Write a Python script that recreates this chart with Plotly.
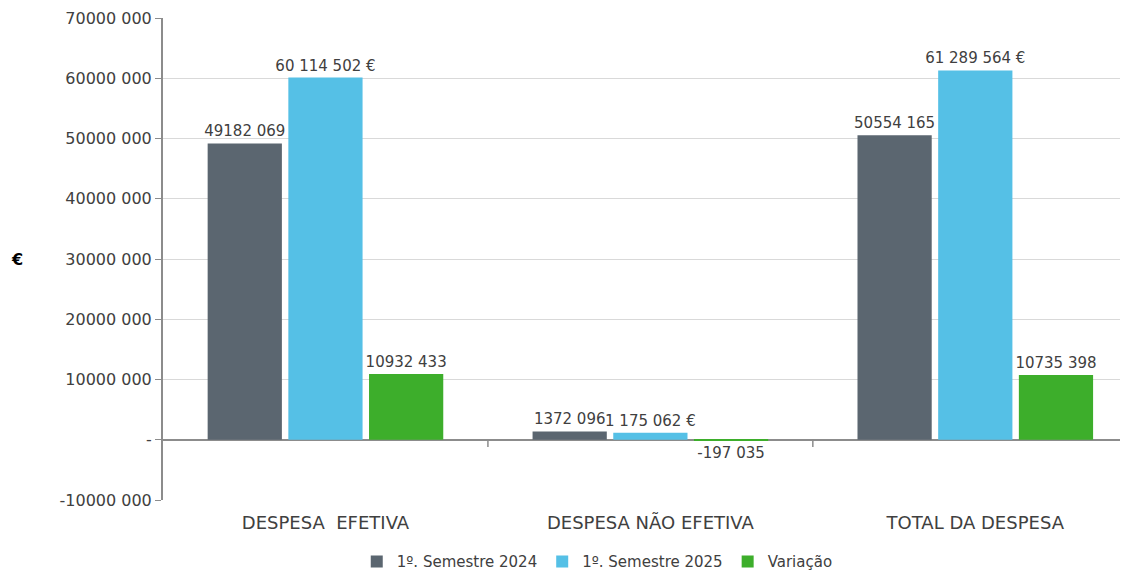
import plotly.graph_objects as go

categories = ["DESPESA  EFETIVA", "DESPESA NÃO EFETIVA", "TOTAL DA DESPESA"]
series_names = ["1º. Semestre 2024", "1º. Semestre 2025", "Variação"]
s2024 = [49182069, 1372096, 50554165]
s2025 = [60114502, 1175062, 61289564]
variacao = [10932433, -197035, 10735398]
labels_2024 = ["49182 069", "1372 096", "50554 165"]
labels_2025 = ["60 114 502 €", "1 175 062 €", "61 289 564 €"]
labels_var = ["10932 433", "-197 035", "10735 398"]
tick_vals = [-10000000, 0, 10000000, 20000000, 30000000, 40000000, 50000000, 60000000, 70000000]
tick_text = ["-10000 000", "-", "10000 000", "20000 000", "30000 000", "40000 000",
             "50000 000", "60000 000", "70000 000"]
y_title = "€"
colors = ["#5B6670", "#55C0E6", "#3DAE2B"]

FONT = "DejaVu Sans"
TXT = "#404040"

fig = go.Figure()
for name, vals, labs, col in zip(series_names, [s2024, s2025, variacao],
                                 [labels_2024, labels_2025, labels_var], colors):
    fig.add_trace(go.Bar(
        x=categories, y=vals, name=name, marker_color=col,
        marker_line_width=0,
        text=labs, textposition="outside", cliponaxis=False,
        constraintext="none",
        textfont=dict(family=FONT, size=15, color=TXT),
        hoverinfo="skip",
    ))

# category boundary ticks on the zero line
for xb in [0.5, 1.5]:
    fig.add_shape(type="line", xref="x", yref="y", x0=xb, x1=xb, y0=0, y1=-1200000,
                  line=dict(color="#8C8C8C", width=1.5))

fig.add_annotation(text="<b>" + y_title + "</b>", xref="paper", yref="paper",
                   x=-0.151, y=0.498, xanchor="center", yanchor="middle", showarrow=False,
                   font=dict(family=FONT, size=16, color="#000000"))

# page body adds an 8px offset, so the figure is 8px smaller than the window
fig.update_layout(
    width=1120, height=565,
    margin=dict(l=155, r=0, t=10, b=73, autoexpand=False),
    paper_bgcolor="white", plot_bgcolor="white",
    barmode="group", bargap=0.255, bargroupgap=0.08,
    font=dict(family=FONT, size=16, color=TXT),
    legend=dict(orientation="h", x=0.45, xanchor="center", y=-0.128, yanchor="middle",
                font=dict(family=FONT, size=15, color=TXT), itemwidth=30,
                traceorder="normal"),
    showlegend=True,
)
fig.update_xaxes(
    range=[-0.5, 2.47], showgrid=False, showline=False, ticks="", automargin=False,
    ticklabelstandoff=10,
    tickfont=dict(family=FONT, size=18, color=TXT),
)
fig.update_yaxes(
    range=[-10000000, 70000000], tickvals=tick_vals, ticktext=tick_text, automargin=False,
    showgrid=True, gridcolor="#D9D9D9", gridwidth=1,
    zeroline=True, zerolinecolor="#8C8C8C", zerolinewidth=2,
    showline=True, linecolor="#8C8C8C", linewidth=2,
    ticks="outside", ticklen=6, tickcolor="#8C8C8C",
    tickfont=dict(family=FONT, size=16, color=TXT),
)

fig.write_html("out.html")
